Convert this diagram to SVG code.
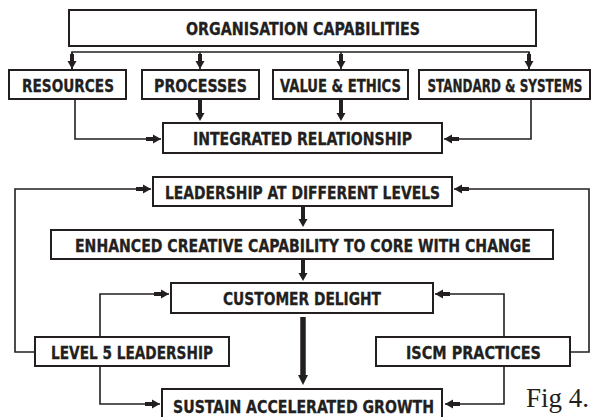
<svg xmlns="http://www.w3.org/2000/svg" width="593" height="417" viewBox="0 0 593 417">
  <style>
    .box { fill: #ffffff; stroke: #231f20; stroke-width: 2; }
    .lbl { font-family: "DejaVu Sans Condensed", "Liberation Sans Narrow", "Liberation Sans", sans-serif; font-weight: bold; font-size: 17.5px; fill: #231f20; stroke: #231f20; stroke-width: 0.3; }
    .wire { fill: none; stroke: #231f20; stroke-width: 1.6; }
    .stub { fill: none; stroke: #231f20; stroke-width: 4; }
    .fig { font-family: "Liberation Serif", "DejaVu Serif", serif; font-size: 27px; fill: #231f20; }
  </style>
  <defs>
    <!-- thin connector ending: short heavy shaft then triangle, tip at refX -->
    <marker id="head" markerUnits="userSpaceOnUse" viewBox="-7 -5 16 10" refX="8" refY="0" markerWidth="16" markerHeight="10" orient="auto" overflow="visible">
      <path d="M-7,-2 H0 V-4.5 L8,0 L0,4.5 V2 H-7 Z" fill="#231f20"/>
    </marker>
    <!-- triangle placed at the end of a heavy stub -->
    <marker id="tri" markerUnits="userSpaceOnUse" viewBox="0 -5 9 10" refX="0" refY="0" markerWidth="9" markerHeight="10" orient="auto" overflow="visible">
      <path d="M0,-4.5 L8,0 L0,4.5 Z" fill="#231f20"/>
    </marker>
    <marker id="triBig" markerUnits="userSpaceOnUse" viewBox="0 -6 11 12" refX="0" refY="0" markerWidth="11" markerHeight="12" orient="auto" overflow="visible">
      <path d="M0,-5 L10,0 L0,5 Z" fill="#231f20"/>
    </marker>
  </defs>

  <g id="connectors">
    <!-- distribution bar under the top box -->
    <path class="wire" d="M72,69 V52 H529 V69"/>
    <line class="wire" x1="72" y1="52" x2="72" y2="69" marker-end="url(#head)"/>
    <line class="wire" x1="200" y1="52" x2="200" y2="69" marker-end="url(#head)"/>
    <line class="wire" x1="341" y1="52" x2="341" y2="69" marker-end="url(#head)"/>
    <line class="wire" x1="529" y1="52" x2="529" y2="69" marker-end="url(#head)"/>
    <!-- into integrated relationship -->
    <line class="stub" x1="200" y1="100" x2="200" y2="113" marker-end="url(#tri)"/>
    <line class="stub" x1="341" y1="100" x2="341" y2="113" marker-end="url(#tri)"/>
    <path class="wire" d="M75,100 V139 H161" marker-end="url(#head)"/>
    <path class="wire" d="M531,100 V139 H444" marker-end="url(#head)"/>

    <!-- vertical chain -->
    <line class="stub" x1="303" y1="207" x2="303" y2="219" marker-end="url(#tri)"/>
    <line class="stub" x1="303" y1="260" x2="303" y2="273" marker-end="url(#tri)"/>
    <line x1="303" y1="317" x2="303" y2="375" stroke="#231f20" stroke-width="5.5" marker-end="url(#triBig)"/>

    <!-- feedback loops -->
    <path class="wire" d="M35,352 H15 V189 H151" marker-end="url(#head)"/>
    <path class="wire" d="M570,352 H589 V189 H454" marker-end="url(#head)"/>
    <path class="wire" d="M100,337 V294 H169" marker-end="url(#head)"/>
    <path class="wire" d="M100,367 V404 H160" marker-end="url(#head)"/>
    <path class="wire" d="M504,337 V294 H435" marker-end="url(#head)"/>
    <path class="wire" d="M504,367 V404 H445" marker-end="url(#head)"/>
  </g>

  <g id="org-capabilities">
    <rect class="box" x="69" y="10" width="467" height="36"/>
    <text class="lbl" x="303" y="35" text-anchor="middle" textLength="234" lengthAdjust="spacingAndGlyphs">ORGANISATION CAPABILITIES</text>
  </g>
  <g id="resources">
    <rect class="box" x="9" y="70" width="117" height="29"/>
    <text class="lbl" x="68" y="91.5" text-anchor="middle" textLength="92" lengthAdjust="spacingAndGlyphs">RESOURCES</text>
  </g>
  <g id="processes">
    <rect class="box" x="142" y="70" width="117" height="29"/>
    <text class="lbl" x="200.5" y="91.5" text-anchor="middle" textLength="93" lengthAdjust="spacingAndGlyphs">PROCESSES</text>
  </g>
  <g id="value-ethics">
    <rect class="box" x="273" y="70" width="135" height="29"/>
    <text class="lbl" x="340.5" y="91.5" text-anchor="middle" textLength="121" lengthAdjust="spacingAndGlyphs">VALUE &amp; ETHICS</text>
  </g>
  <g id="standard-systems">
    <rect class="box" x="419" y="70" width="171" height="29"/>
    <text class="lbl" x="505" y="91.5" text-anchor="middle" textLength="155" lengthAdjust="spacingAndGlyphs">STANDARD &amp; SYSTEMS</text>
  </g>
  <g id="integrated-relationship">
    <rect class="box" x="163" y="123" width="279" height="30"/>
    <text class="lbl" x="302.5" y="145" text-anchor="middle" textLength="219" lengthAdjust="spacingAndGlyphs">INTEGRATED RELATIONSHIP</text>
  </g>

  <g id="leadership-levels">
    <rect class="box" x="153" y="177" width="299" height="29"/>
    <text class="lbl" x="302.5" y="198.5" text-anchor="middle" textLength="275" lengthAdjust="spacingAndGlyphs">LEADERSHIP AT DIFFERENT LEVELS</text>
  </g>
  <g id="creative-capability">
    <rect class="box" x="51" y="230" width="502" height="29"/>
    <text class="lbl" x="303" y="251.5" text-anchor="middle" textLength="456" lengthAdjust="spacingAndGlyphs">ENHANCED CREATIVE CAPABILITY TO CORE WITH CHANGE</text>
  </g>
  <g id="customer-delight">
    <rect class="box" x="171" y="283" width="262" height="30"/>
    <text class="lbl" x="302" y="305" text-anchor="middle" textLength="158" lengthAdjust="spacingAndGlyphs">CUSTOMER DELIGHT</text>
  </g>
  <g id="level5-leadership">
    <rect class="box" x="35" y="337" width="194" height="29"/>
    <text class="lbl" x="132" y="358.5" text-anchor="middle" textLength="162" lengthAdjust="spacingAndGlyphs">LEVEL 5 LEADERSHIP</text>
  </g>
  <g id="iscm-practices">
    <rect class="box" x="376" y="337" width="194" height="29"/>
    <text class="lbl" x="473.5" y="358.5" text-anchor="middle" textLength="135" lengthAdjust="spacingAndGlyphs">ISCM PRACTICES</text>
  </g>
  <g id="sustain-growth">
    <rect class="box" x="162" y="389" width="280" height="32"/>
    <text class="lbl" x="303.5" y="412.5" text-anchor="middle" textLength="261" lengthAdjust="spacingAndGlyphs">SUSTAIN ACCELERATED GROWTH</text>
  </g>

  <text class="fig" x="526" y="407">Fig 4.</text>
</svg>
